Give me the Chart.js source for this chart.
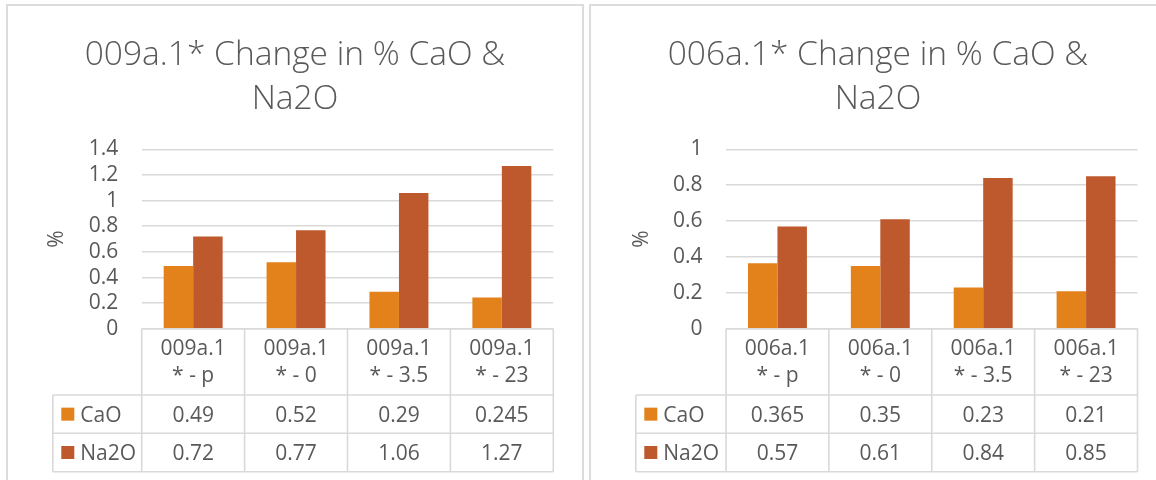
<!DOCTYPE html>
<html>
<head>
<meta charset="utf-8">
<script src="https://cdn.jsdelivr.net/npm/chart.js@4/dist/chart.umd.min.js"></script>
<style>
  html, body { margin: 0; padding: 0; background: #fff; width: 1156px; height: 480px; overflow: hidden; }
  .panel { position: absolute; top: 4px; height: 520px; box-sizing: border-box; border: 2px solid #dcdcdc; }
  canvas { position: absolute; top: 6px; }
</style>
</head>
<body>
<div class="panel" style="left:6px;width:578px;"></div>
<div class="panel" style="left:589px;width:600px;"></div>
<canvas id="left" width="574" height="474" style="left:8px;"></canvas>
<canvas id="right" width="565" height="474" style="left:591px;"></canvas>
<script>
// Chart texts
const titleLeft = ['009a.1* Change in % CaO &', 'Na2O'];
const titleRight = ['006a.1* Change in % CaO &', 'Na2O'];
const yAxisTitle = '%';
const seriesNames = ['CaO', 'Na2O'];

// Categories (each wrapped over two lines in the table header)
const categoriesLeft = [['009a.1', '* - p'], ['009a.1', '* - 0'], ['009a.1', '* - 3.5'], ['009a.1', '* - 23']];
const categoriesRight = [['006a.1', '* - p'], ['006a.1', '* - 0'], ['006a.1', '* - 3.5'], ['006a.1', '* - 23']];

// Series values
const caoLeft = [0.49, 0.52, 0.29, 0.245];
const na2oLeft = [0.72, 0.77, 1.06, 1.27];
const caoRight = [0.365, 0.35, 0.23, 0.21];
const na2oRight = [0.57, 0.61, 0.84, 0.85];

// Value-axis ticks
const yTicksLeft = [0, 0.2, 0.4, 0.6, 0.8, 1, 1.2, 1.4];
const yTicksRight = [0, 0.2, 0.4, 0.6, 0.8, 1];

const COLORS = ['#E3821A', '#BD592D'];
const TEXT = '#595959';
const GRID = '#d9d9d9';
const FONT = '"Open Sans", "Noto Sans", sans-serif';
const FS = 21;

// Title above the plot plus the data table under the category axis
const excelFrame = {
  id: 'excelFrame',
  afterDraw(chart, args, opts) {
    const { ctx, chartArea: a, scales: { x } } = chart;
    const cats = chart.data.labels;
    const n = cats.length;
    const colW = x.width / n;
    const edges = [];
    for (let i = 0; i < n; i++) edges.push(x.getPixelForValue(i) - colW / 2);
    edges.push(x.getPixelForValue(n - 1) + colW / 2);

    const r0 = a.bottom, r1 = r0 + 66.2, r2 = r1 + 38.3, r3 = r2 + 38.4;
    const tl = opts.tableLeft;

    ctx.save();
    // title
    ctx.fillStyle = TEXT;
    ctx.textAlign = 'center';
    ctx.textBaseline = 'alphabetic';
    ctx.font = '300 33.5px ' + FONT;
    opts.title.forEach((line, i) => ctx.fillText(line, opts.titleX, 59 + i * 44));

    // table grid
    ctx.strokeStyle = GRID;
    ctx.lineWidth = 1.6;
    ctx.beginPath();
    ctx.moveTo(edges[0], r0); ctx.lineTo(edges[n], r0);
    [r1, r2, r3].forEach(r => { ctx.moveTo(tl, r); ctx.lineTo(edges[n], r); });
    edges.forEach(e => { ctx.moveTo(e, r0); ctx.lineTo(e, r3); });
    ctx.moveTo(tl, r1); ctx.lineTo(tl, r3);
    ctx.stroke();

    // header and values
    ctx.font = FS + 'px ' + FONT;
    ctx.fillStyle = TEXT;
    const mid = (r0 + r1) / 2;
    cats.forEach((lines, i) => {
      const cx = x.getPixelForValue(i);
      lines.forEach((ln, j) => ctx.fillText(ln, cx, mid - 7 + j * 27));
      chart.data.datasets.forEach((ds, k) => {
        const rc = k === 0 ? (r1 + r2) / 2 : (r2 + r3) / 2;
        ctx.fillText(String(ds.data[i]), cx, rc + 7.4);
      });
    });

    // legend keys
    ctx.textAlign = 'left';
    chart.data.datasets.forEach((ds, k) => {
      const rc = k === 0 ? (r1 + r2) / 2 : (r2 + r3) / 2;
      ctx.fillStyle = ds.backgroundColor;
      ctx.fillRect(tl + 8.5, rc - 6.5, 13, 13);
      ctx.fillStyle = TEXT;
      ctx.fillText(ds.label, tl + 27.5, rc + 7.4);
    });
    ctx.restore();
  }
};

function makeChart(id, cats, cao, na2o, ticks, title, geo) {
  const yMax = ticks[ticks.length - 1];
  return new Chart(document.getElementById(id), {
    type: 'bar',
    data: {
      labels: cats,
      datasets: [
        { label: seriesNames[0], data: cao, backgroundColor: COLORS[0], borderWidth: 0 },
        { label: seriesNames[1], data: na2o, backgroundColor: COLORS[1], borderWidth: 0 }
      ]
    },
    options: {
      responsive: false,
      animation: false,
      devicePixelRatio: 1,
      datasets: { bar: { categoryPercentage: 0.573, barPercentage: 1 } },
      layout: { padding: { top: 143.4, left: 0, right: geo.padRight, bottom: 0 } },
      plugins: {
        legend: { display: false },
        title: { display: false },
        tooltip: { enabled: false },
        excelFrame: { title: title, titleX: 287, tableLeft: 44.8 }
      },
      scales: {
        x: {
          grid: { display: false, drawTicks: false },
          border: { display: false },
          ticks: { display: false },
          afterFit(s) { s.height = 474 - 322.8; }
        },
        y: {
          min: 0,
          max: yMax,
          afterBuildTicks(s) { s.ticks = ticks.map(v => ({ value: v })); },
          ticks: { color: TEXT, padding: 23.5, autoSkip: false, font: { family: FONT, size: FS }, callback: v => String(v) },
          grid: { color: GRID, lineWidth: 1.6, drawTicks: false },
          border: { display: false },
          title: { display: true, text: yAxisTitle, color: TEXT, font: { family: FONT, size: FS }, padding: { top: geo.titlePad, bottom: 0 } },
          afterFit(s) { s.width = geo.axisWidth; }
        }
      }
    },
    plugins: [excelFrame]
  });
}

makeChart('left', categoriesLeft, caoLeft, na2oLeft, yTicksLeft, titleLeft, { padRight: 28.7, axisWidth: 133.7, titlePad: 36.5 });
makeChart('right', categoriesRight, caoRight, na2oRight, yTicksRight, titleRight, { padRight: 18.5, axisWidth: 135, titlePad: 38.2 });
</script>
</body>
</html>
